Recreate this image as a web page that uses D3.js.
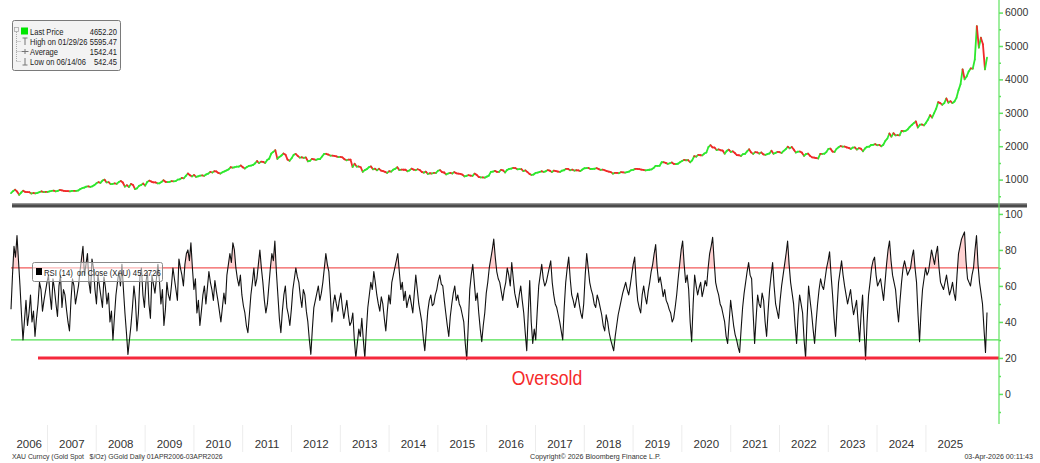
<!DOCTYPE html>
<html><head><meta charset="utf-8">
<script src="https://cdn.jsdelivr.net/npm/d3@7"></script>
<style>body{margin:0;background:#fff;} svg{display:block;font-family:"Liberation Sans",Arial,sans-serif;}</style>
</head><body><svg id="c" width="1040" height="463"></svg>
<script>
// Gold spot, semi-monthly readings, Apr 2006 .. Apr 2026
const priceValues = [
595,654,700,643,545,613,665,633,625,623,585,599,590,604,625,646,625,632,
630,650,665,669,650,662,690,677,665,657,655,650,665,665,660,673,715,743,760,789,800,783,800,834,
890,923,905,972,1000,916,925,864,870,885,875,926,960,913,790,833,780,871,840,718,740,815,840,882,
820,928,970,942,920,916,890,890,930,979,935,926,935,955,950,955,1000,1008,1050,1040,1110,1182,1130,1096,
1140,1081,1100,1118,1125,1113,1155,1180,1230,1213,1250,1244,1200,1181,1220,1248,1275,1307,1370,1357,1370,1386,1390,1421,
1370,1332,1375,1409,1420,1439,1485,1556,1495,1536,1530,1500,1590,1628,1780,1829,1880,1620,1680,1722,1780,1746,1600,1566,
1640,1740,1770,1711,1660,1669,1650,1664,1550,1561,1620,1604,1590,1615,1615,1693,1770,1773,1750,1720,1720,1711,1695,1675,
1680,1664,1610,1579,1600,1595,1380,1476,1390,1393,1370,1235,1285,1313,1370,1396,1310,1327,1280,1323,1270,1253,1230,1202,
1250,1240,1300,1326,1370,1284,1300,1296,1295,1250,1275,1327,1300,1282,1310,1287,1230,1208,1240,1171,1190,1183,1200,1199,
1265,1284,1225,1213,1155,1183,1200,1184,1225,1190,1180,1172,1150,1095,1115,1132,1120,1115,1180,1142,1080,1065,1065,1061,
1090,1118,1230,1238,1260,1233,1230,1293,1275,1215,1290,1322,1330,1351,1345,1309,1315,1316,1255,1277,1225,1173,1140,1152,
1200,1211,1230,1249,1230,1249,1285,1268,1230,1269,1255,1242,1230,1269,1280,1322,1320,1280,1300,1271,1280,1275,1255,1303,
1340,1345,1350,1318,1320,1325,1345,1316,1290,1299,1280,1253,1240,1224,1180,1201,1200,1192,1225,1215,1210,1222,1240,1282,
1290,1321,1320,1313,1300,1292,1275,1284,1295,1305,1345,1409,1410,1414,1520,1520,1500,1472,1490,1513,1470,1464,1475,1517,
1555,1589,1580,1585,1520,1577,1700,1686,1740,1730,1725,1781,1810,1975,2030,1968,1960,1886,1905,1879,1870,1777,1860,1898,
1830,1847,1795,1734,1730,1708,1765,1769,1845,1907,1815,1770,1825,1814,1780,1814,1755,1743,1765,1783,1865,1774,1800,1829,
1820,1797,1860,1909,1985,1937,1975,1897,1810,1838,1840,1807,1710,1766,1780,1711,1665,1661,1645,1633,1770,1769,1775,1824,
1920,1928,1840,1827,1920,1969,2005,1990,1990,1963,1950,1919,1960,1965,1900,1940,1925,1849,1930,1983,1985,2036,2040,2063,
2030,2040,2000,2044,2160,2230,2380,2286,2390,2327,2330,2327,2460,2448,2460,2503,2580,2634,2690,2744,2560,2643,2650,2625,
2700,2798,2930,2858,2990,3124,3320,3289,3240,3289,3430,3303,3350,3290,3340,3448,3680,3859,4300,4003,4090,4240,4330,4320,
4600,5595,4950,5250,5050,4300,4652
];
// RSI(14) readings, evenly spaced across the same period
const rsiValues = [
47,66,82,76,88,74,60,44,30,41,52,38,45,55,40,46,32,42,50,62,58,46,52,57,62,66,55,47,64,58,50,43,60,66,48,58,55,47,40,35,52,64,60,50,55,60,68,75,82,66,72,78,62,56,75,70,58,50,66,60,54,48,65,59,50,56,40,46,30,43,55,62,68,60,72,58,45,34,22,30,38,48,60,52,35,45,65,70,55,48,62,68,50,42,66,61,56,64,72,63,50,58,38,47,62,55,52,60,70,64,58,52,75,70,66,60,72,78,80,74,84,70,58,64,45,52,38,46,55,60,50,59,68,62,58,52,63,57,52,46,40,48,56,50,66,72,78,73,84,80,70,64,60,66,55,49,45,38,34,44,55,62,70,60,64,
72,80,70,62,52,45,50,60,70,78,74,85,68,55,42,34,46,55,60,48,44,38,47,58,64,70,65,62,54,48,58,55,46,40,30,22,36,48,52,56,60,52,56,62,70,78,72,68,55,40,50,55,50,46,52,56,48,42,47,52,44,38,40,45,30,20,28,36,32,42,30,20,35,48,55,62,58,68,62,55,50,46,54,50,42,35,46,55,50,62,66,70,74,78,68,58,62,52,57,48,52,55,50,45,56,66,58,50,45,40,31,24,35,46,52,55,49,50,55,58,63,66,61,60,52,45,38,32,43,50,56,60,52,55,50,48,44,40,28,19,38,58,66,72,62,52,56,45,36,29,38,45,56,62,70,75,80,86,76,68,64,62,57,52,
58,62,70,66,60,73,64,56,52,48,55,60,52,45,34,24,45,63,40,28,36,30,46,60,66,72,64,60,62,66,70,74,62,55,50,48,44,40,35,30,48,62,70,76,64,55,52,48,52,56,50,45,42,50,66,78,70,62,58,55,50,48,55,52,48,44,38,35,44,40,34,30,27,24,32,38,44,48,52,56,59,62,58,55,60,66,72,76,62,52,48,45,55,60,54,50,57,62,68,72,78,83,70,62,65,60,54,58,52,50,47,45,40,42,48,55,64,72,80,85,72,62,66,58,40,29,50,66,60,55,59,62,54,58,63,60,70,78,82,87,74,62,58,55,50,48,44,40,32,28,40,52,45,38,33,30,26,23,36,48,56,62,68,73,
66,64,45,28,42,55,50,48,56,52,40,32,46,58,66,73,60,50,46,42,52,60,66,72,78,85,72,62,56,50,38,28,44,55,50,45,30,20,42,60,52,45,36,28,40,50,58,64,60,58,64,70,74,79,66,55,42,32,48,62,68,74,66,60,55,50,54,58,50,44,48,52,40,29,44,55,36,19,40,55,62,70,74,76,66,60,62,64,58,52,62,72,80,85,74,66,62,58,48,40,52,62,70,74,70,66,68,70,76,80,70,62,44,29,46,58,64,70,66,68,74,80,76,72,78,82,70,62,60,58,62,66,60,55,58,62,56,52,66,78,82,86,88,90,74,64,62,60,66,70,80,88,72,62,56,50,36,23,45.27
];
const priceTicks = [1000,2000,3000,4000,5000,6000];
const priceMinor = [500,1500,2500,3500,4500,5500];
const rsiTicks = [0,20,40,60,80,100];
const rsiMinor = [-10,10,30,50,70,90];
const years = d3.range(2006, 2026);
const legendLabels = ["Last Price","High on 01/29/26","Average","Low on 06/14/06"];
const legendValues = ["4652.20","5595.47","1542.41","542.45"];
const rsiLegend = "RSI (14)  on Close (XAU) 45.2726";
const overboughtLevel = 70, oversoldBand = 30, oversoldLevel = 20;

const startDate = new Date(2006,3,3), endDate = new Date(2026,3,3);
const dateAt = (i,n) => new Date(+startDate + (endDate - startDate) * i / (n - 1));
const price = priceValues.map((v,i)=>({d:dateAt(i,priceValues.length), v}));
const rsi = rsiValues.map((v,i)=>({d:dateAt(i,rsiValues.length), v}));

const svg = d3.select("#c");
const x = d3.scaleTime().domain([startDate,endDate]).range([11,987]);
const yP = d3.scaleLinear().domain([270,6287]).range([204,3]);
const yR = d3.scaleLinear().domain([-16.7,103.3]).range([424,208]);
const AX = 999;
const axisGreen = "#5fe35f";

function ntext(g, x0, y0, txt, size, sx, anchor, fill){
  return g.append("text").attr("transform",`translate(${x0},${y0}) scale(${sx},1)`)
    .attr("x",0).attr("y",0).attr("font-size",size).attr("fill",fill||"#222")
    .attr("text-anchor",anchor||"start").style("white-space","pre").text(txt);
}

// year separators in axis band
svg.append("g").selectAll("line").data(years.slice(1)).join("line")
  .attr("x1",d=>x(new Date(d,0,1))).attr("x2",d=>x(new Date(d,0,1)))
  .attr("y1",425).attr("y2",452).attr("stroke","#ececec").attr("stroke-width",1);

// ---------- Price panel ----------
const gP = svg.append("g");
for (let i=1;i<price.length;i++){
  gP.append("line")
    .attr("x1",x(price[i-1].d)).attr("y1",yP(price[i-1].v))
    .attr("x2",x(price[i].d)).attr("y2",yP(price[i].v))
    .attr("stroke", price[i].v>=price[i-1].v ? "#2ee82e" : "#f02a2a")
    .attr("stroke-width",1.8).attr("stroke-linecap","round");
}

// ---------- RSI panel ----------
const defs = svg.append("defs");
defs.append("clipPath").attr("id","above").append("rect")
  .attr("x",0).attr("y",0).attr("width",1000).attr("height",yR(overboughtLevel));
defs.append("clipPath").attr("id","below").append("rect")
  .attr("x",0).attr("y",yR(oversoldBand)).attr("width",1000).attr("height",440-yR(oversoldBand));
svg.append("path").datum(rsi).attr("clip-path","url(#above)")
  .attr("fill","#ffd2d2")
  .attr("d", d3.area().x(d=>x(d.d)).y0(yR(overboughtLevel)).y1(d=>yR(d.v)));
svg.append("path").datum(rsi).attr("clip-path","url(#below)")
  .attr("fill","#d2f7d2")
  .attr("d", d3.area().x(d=>x(d.d)).y0(yR(oversoldBand)).y1(d=>yR(d.v)));

svg.append("line").attr("x1",11).attr("x2",AX).attr("y1",yR(overboughtLevel)).attr("y2",yR(overboughtLevel))
  .attr("stroke","#f25a5a").attr("stroke-width",1.2);
svg.append("line").attr("x1",11).attr("x2",AX).attr("y1",yR(oversoldBand)).attr("y2",yR(oversoldBand))
  .attr("stroke","#4fe04f").attr("stroke-width",1.2);

svg.append("path").datum(rsi).attr("fill","none").attr("stroke","#111").attr("stroke-width",1.1)
  .attr("stroke-linejoin","round")
  .attr("d", d3.line().x(d=>x(d.d)).y(d=>yR(d.v)));

svg.append("line").attr("x1",38).attr("x2",AX).attr("y1",yR(oversoldLevel)).attr("y2",yR(oversoldLevel))
  .attr("stroke","#f5283c").attr("stroke-width",3);
const ov = ntext(svg, 547, 385, "Oversold", 20, 0.88, "middle", "#f52a2a");

// separator bar
svg.append("rect").attr("x",12).attr("y",203.5).attr("width",1015).attr("height",4).attr("fill","#4b4b4b");
svg.append("rect").attr("x",12).attr("y",203.5).attr("width",1015).attr("height",1).attr("fill","#8a8a8a");

// ---------- Right axes ----------
svg.append("line").attr("x1",AX).attr("x2",AX).attr("y1",0).attr("y2",424)
  .attr("stroke",axisGreen).attr("stroke-width",1.2);

function styleAxis(g){
  g.select(".domain").remove();
  g.selectAll(".tick line").attr("stroke",axisGreen).attr("stroke-width",1.5);
  g.selectAll(".tick text").attr("fill","#333").attr("font-size",10.5)
    .attr("font-family","'Liberation Sans',Arial,sans-serif");
}
const axP = svg.append("g").attr("transform",`translate(${AX},0)`)
  .call(d3.axisRight(yP).tickValues(priceTicks).tickSize(4).tickPadding(2).tickFormat(d3.format("d")));
styleAxis(axP);
const axPm = svg.append("g").attr("transform",`translate(${AX},0)`)
  .call(d3.axisRight(yP).tickValues(priceMinor).tickSize(2).tickFormat(""));
styleAxis(axPm);
const axR = svg.append("g").attr("transform",`translate(${AX},0)`)
  .call(d3.axisRight(yR).tickValues(rsiTicks).tickSize(4).tickPadding(2).tickFormat(d3.format("d")));
styleAxis(axR);
const axRm = svg.append("g").attr("transform",`translate(${AX},0)`)
  .call(d3.axisRight(yR).tickValues(rsiMinor).tickSize(2).tickFormat(""));
styleAxis(axRm);

// ---------- Year labels ----------
svg.append("g").selectAll("text").data(years).join("text")
  .attr("x", d => {
    const a = Math.max(+new Date(d,0,1), +startDate), b = +new Date(d+1,0,1);
    return (x(new Date(a)) + x(new Date(b))) / 2;
  })
  .attr("y",448).attr("text-anchor","middle").attr("font-size",11.5).attr("fill","#333")
  .text(d=>d);

// ---------- Footer ----------
const foot = svg.append("g");
ntext(foot, 12, 459, "XAU Curncy (Gold Spot   $/Oz) GGold Daily 01APR2006-03APR2026", 7.5, 0.91, "start", "#333");
ntext(foot, 530, 459, "Copyright\u00A9 2026 Bloomberg Finance L.P.", 7.5, 0.95, "start", "#333");
ntext(foot, 1033, 459, "03-Apr-2026 00:11:43", 7.5, 0.95, "end", "#333");

// ---------- Price legend ----------
const lg = svg.append("g");
lg.append("rect").attr("x",12.5).attr("y",20.5).attr("width",108).attr("height",50).attr("rx",2)
  .attr("fill","#f3f3f3").attr("stroke","#7a7a7a");
lg.append("rect").attr("x",14.5).attr("y",27.5).attr("width",4).attr("height",4).attr("fill","none").attr("stroke","#aaa").attr("stroke-width",0.8);
lg.append("line").attr("x1",16.5).attr("x2",16.5).attr("y1",32).attr("y2",62).attr("stroke","#aaa").attr("stroke-dasharray","1,1");
const rowY = [31.5,41.5,51.5,61.5];
rowY.slice(1).forEach(y=>lg.append("line").attr("x1",16.5).attr("x2",21).attr("y1",y).attr("y2",y).attr("stroke","#aaa").attr("stroke-dasharray","1,1"));
lg.append("rect").attr("x",21).attr("y",27.5).attr("width",7).attr("height",7).attr("fill","#00e600");
lg.append("path").attr("d","M22.5,38 H27.5 M25,38 V45").attr("stroke","#777").attr("fill","none");
lg.append("path").attr("d","M21.5,51.5 H28.5 M25,49 V54").attr("stroke","#777").attr("fill","none");
lg.append("path").attr("d","M25,58 V65 M22.5,65 H27.5").attr("stroke","#777").attr("fill","none");
legendLabels.forEach((t,i)=>ntext(lg, 30, rowY[i]+3.2, t, 8.8, 0.86, "start", "#222"));
legendValues.forEach((t,i)=>ntext(lg, 117, rowY[i]+3.2, t, 8.8, 0.86, "end", "#222"));

// ---------- RSI legend ----------
const rl = svg.append("g");
rl.append("rect").attr("x",32.5).attr("y",262.5).attr("width",130).attr("height",19).attr("rx",2)
  .attr("fill","#ffffff").attr("fill-opacity",0.55).attr("stroke","#8a8a8a");
rl.append("rect").attr("x",36).attr("y",268).attr("width",6).attr("height",7).attr("fill","#000");
ntext(rl, 44, 275.5, rsiLegend, 9, 0.86, "start", "#222");
</script></body></html>
